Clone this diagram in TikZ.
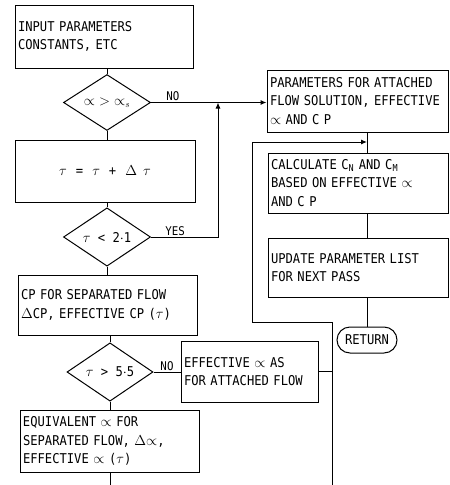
\documentclass[tikz,border=0pt]{standalone}
\usepackage{fontspec}
\setmainfont[FakeStretch=0.9]{DejaVu Sans Mono}
\usetikzlibrary{shapes.geometric, arrows.meta, positioning}

\begin{document}
\begin{tikzpicture}[
    x=1pt, y=-1pt,
    every node/.style={font=\fontsize{13.5}{18.5}\selectfont},
    procbox/.style={rectangle, draw, line width=1pt, inner sep=3pt, align=left},
    testbox/.style={diamond, draw, line width=1pt, inner sep=0pt, align=center},
    endbox/.style={rectangle, draw, line width=1pt, rounded corners=13pt, minimum width=60pt, minimum height=26pt},
    flowline/.style={line width=1pt},
    arrow/.style={line width=1pt, -{Latex[length=6pt, width=5pt]}},
    lbl/.style={font=\fontsize{12}{13}\selectfont, inner sep=1pt}
]
\useasboundingbox (0,0) rectangle (450,485);

% left column
\node[procbox, minimum width=178pt, minimum height=63pt, text width=172pt] (inputbox) at (104,36.5) {INPUT PARAMETERS\\CONSTANTS, ETC};
\node[testbox, minimum width=87pt, minimum height=49pt] (alphatest) at (107,102.5) {$\propto\;>\;\propto_{s}$};
\node[procbox, minimum width=180pt, minimum height=62pt, align=center] (tauinc) at (105,171) {$\tau$\hspace{9pt}=\hspace{9pt}$\tau$\hspace{9pt}+\hspace{9pt}$\Delta$\hspace{6pt}$\tau$};
\node[testbox, minimum width=87pt, minimum height=50pt] (tautest) at (107,237) {$\tau$ < 2$\cdot$1};
\node[procbox, minimum width=179pt, minimum height=60pt, text width=173pt] (cpsep) at (107.5,305) {CP FOR SEPARATED FLOW\\$\Delta$CP, EFFECTIVE CP ($\tau$)};
\node[testbox, minimum width=86pt, minimum height=50pt] (sizetest) at (110,372) {$\tau$ > 5$\cdot$5};
\node[procbox, minimum width=179pt, minimum height=62pt, text width=173pt] (equiv) at (109.5,441) {EQUIVALENT $\propto$ FOR\\SEPARATED FLOW, $\Delta{\propto}$,\\EFFECTIVE $\propto$ ($\tau$)};
\node[procbox, minimum width=137pt, minimum height=61pt, text width=131pt] (effatt) at (249.5,371.5) {EFFECTIVE $\propto$ AS\\FOR ATTACHED FLOW};

% right column
\node[procbox, minimum width=181pt, minimum height=62pt, text width=175pt] (attpar) at (357.5,101) {PARAMETERS FOR ATTACHED\\FLOW SOLUTION, EFFECTIVE\\$\propto$ AND C P};
\node[procbox, minimum width=180pt, minimum height=60pt, text width=174pt] (calccn) at (358,183) {CALCULATE C\textsubscript{N} AND C\textsubscript{M}\\BASED ON EFFECTIVE $\propto$\\AND C P};
\node[procbox, minimum width=180pt, minimum height=59pt, text width=174pt] (update) at (358,267.5) {UPDATE PARAMETER LIST\\FOR NEXT PASS};
\node[endbox] (return) at (367,340) {RETURN};

\coordinate (yesjoin) at (218,102.5);
\coordinate (calcjoin) at (367,142);
\coordinate (loopknee) at (252,322);
\coordinate (loopbot) at (332,485);
\coordinate (equivbot) at (110,485);

% main chain
\draw[flowline] (alphatest.north |- inputbox.south) -- (alphatest.north);
\draw[flowline] (alphatest.south) -- (alphatest.south |- tauinc.north);
\draw[flowline] (tautest.north |- tauinc.south) -- (tautest.north);
\draw[flowline] (tautest.south) -- (tautest.south |- cpsep.north);
\draw[flowline] (sizetest.north |- cpsep.south) -- (sizetest.north);
\draw[flowline] (sizetest.south) -- (sizetest.south |- equiv.north);
\draw[flowline] (equivbot |- equiv.south) -- (equivbot);

% branches
\draw[arrow] (alphatest.east) -- node[lbl, above, pos=0.19] {NO} (alphatest.east -| attpar.west);
\draw[arrow] (tautest.east) -| node[lbl, above, pos=0.18] {YES} (yesjoin);
\draw[flowline] (sizetest.east) -- node[lbl, above, pos=0.5] {NO} (sizetest.east -| effatt.west);
\draw[flowline] (effatt.east) -- (effatt.east -| loopbot);
\draw[arrow] (loopbot) |- (loopknee) |- (calcjoin);

% right chain
\draw[flowline] (calcjoin |- attpar.south) -- (calcjoin |- calccn.north);
\draw[flowline] (calcjoin |- calccn.south) -- (calcjoin |- update.north);
\draw[flowline] (return.north |- update.south) -- (return.north);
\end{tikzpicture}
\end{document}
